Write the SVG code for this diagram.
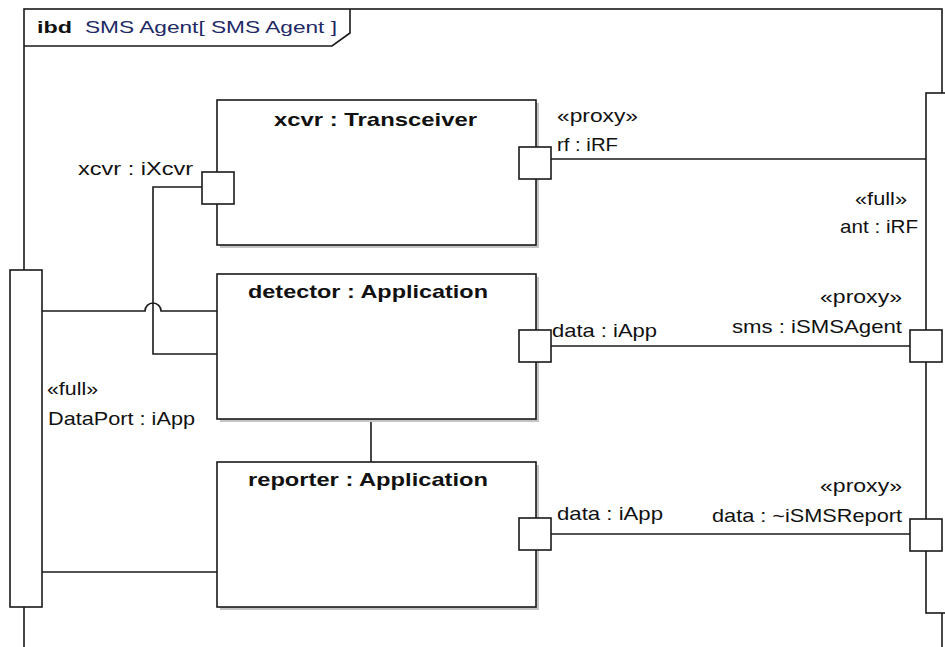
<svg xmlns="http://www.w3.org/2000/svg" width="945" height="647" viewBox="0 0 945 647">
<style>
.ln{fill:none;stroke:#1a1a1a;stroke-width:1.6}
.box{fill:#fff;stroke:#1a1a1a;stroke-width:1.6}
.sh{fill:#c4c4c4}
.port{fill:#fff;stroke:#1a1a1a;stroke-width:1.6}
text{font-family:"Liberation Sans",Arial,sans-serif;font-size:18.5px;fill:#111}
.b{font-weight:bold}
.hd{font-size:17px}
.nm{fill:#1f2a66}
</style>
<rect width="945" height="647" fill="#fff"/>
<g id="frame">
<rect class="ln" x="24" y="9" width="918" height="700"/>
<path class="ln" d="M24,46 H332 L350,33 V9"/>
<text class="b hd" x="37" y="33" textLength="35" lengthAdjust="spacingAndGlyphs">ibd</text>
<text class="hd nm" x="85" y="33" textLength="252" lengthAdjust="spacingAndGlyphs">SMS Agent[ SMS Agent ]</text>
</g>
<g id="DataPort">
<rect class="port" x="10" y="270" width="32" height="337"/>
<text x="47" y="395" textLength="51" lengthAdjust="spacingAndGlyphs">«full»</text>
<text x="48" y="425" textLength="147" lengthAdjust="spacingAndGlyphs">DataPort : iApp</text>
</g>
<g id="ant">
<rect class="port" x="926" y="93" width="40" height="520"/>
<text x="855" y="205" textLength="52" lengthAdjust="spacingAndGlyphs">«full»</text>
<text x="840" y="233" textLength="78" lengthAdjust="spacingAndGlyphs">ant : iRF</text>
</g>
<g id="connectors">
<path class="ln" d="M551,159 H926"/>
<path class="ln" d="M551,346 H910"/>
<path class="ln" d="M551,534 H910"/>
<path class="ln" d="M202,187 H153 V354 H217"/>
<path class="ln" d="M42,311 H145 A8,8 0 0 1 161,311 H217"/>
<path class="ln" d="M42,572 H217"/>
<path class="ln" d="M371,419 V462"/>
</g>
<g id="xcvr">
<rect class="sh" x="220" y="103" width="319" height="145"/>
<rect class="box" x="217" y="100" width="319" height="145"/>
<text class="b" x="274" y="126" textLength="203" lengthAdjust="spacingAndGlyphs">xcvr : Transceiver</text>
<rect class="port" x="202" y="172" width="32" height="32"/>
<text x="78" y="175" textLength="115" lengthAdjust="spacingAndGlyphs">xcvr : iXcvr</text>
<rect class="port" x="519" y="147" width="32" height="32"/>
<text x="557" y="122" textLength="81" lengthAdjust="spacingAndGlyphs">«proxy»</text>
<text x="557" y="151" textLength="61" lengthAdjust="spacingAndGlyphs">rf : iRF</text>
</g>
<g id="detector">
<rect class="sh" x="220" y="277" width="319" height="145"/>
<rect class="box" x="217" y="274" width="319" height="145"/>
<text class="b" x="248" y="298" textLength="240" lengthAdjust="spacingAndGlyphs">detector : Application</text>
<rect class="port" x="519" y="330" width="32" height="32"/>
<text x="552" y="337" textLength="105" lengthAdjust="spacingAndGlyphs">data : iApp</text>
</g>
<g id="reporter">
<rect class="sh" x="220" y="465" width="319" height="145"/>
<rect class="box" x="217" y="462" width="319" height="145"/>
<text class="b" x="248" y="486" textLength="240" lengthAdjust="spacingAndGlyphs">reporter : Application</text>
<rect class="port" x="519" y="518" width="32" height="32"/>
<text x="557" y="520" textLength="106" lengthAdjust="spacingAndGlyphs">data : iApp</text>
</g>
<g id="sms">
<rect class="port" x="910" y="330" width="32" height="32"/>
<text x="820" y="303" textLength="82" lengthAdjust="spacingAndGlyphs">«proxy»</text>
<text x="732" y="333" textLength="170" lengthAdjust="spacingAndGlyphs">sms : iSMSAgent</text>
</g>
<g id="dataReport">
<rect class="port" x="910" y="519" width="32" height="32"/>
<text x="820" y="492" textLength="82" lengthAdjust="spacingAndGlyphs">«proxy»</text>
<text x="712" y="522" textLength="190" lengthAdjust="spacingAndGlyphs">data : ~iSMSReport</text>
</g>
</svg>
